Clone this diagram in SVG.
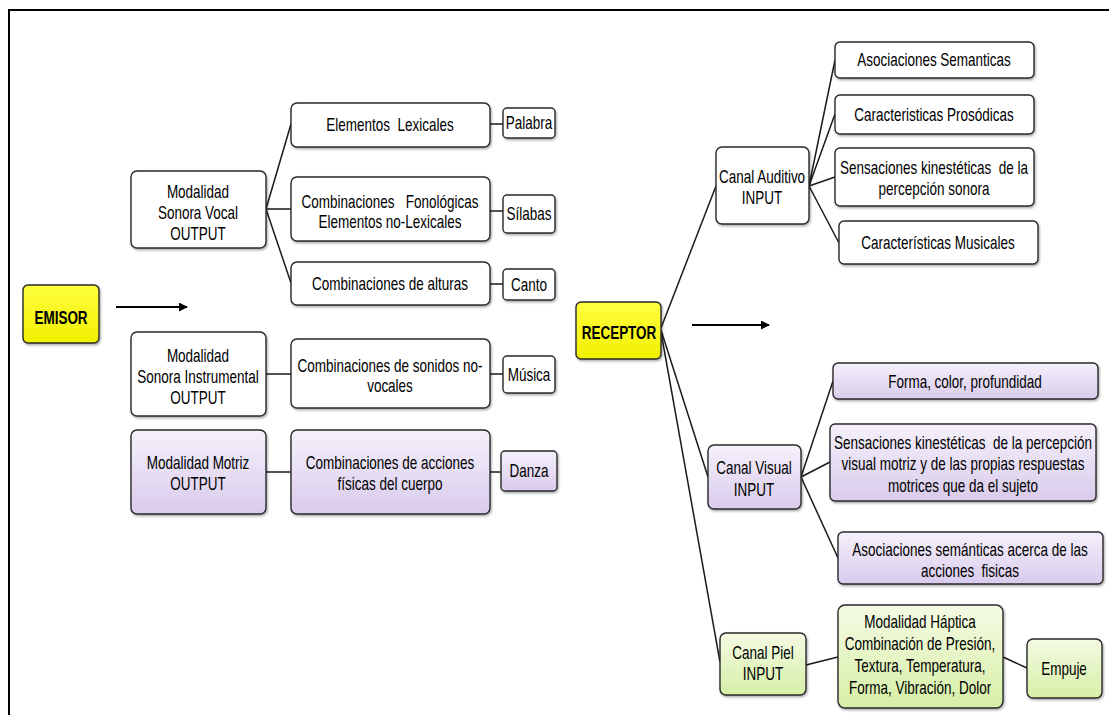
<svg xmlns="http://www.w3.org/2000/svg" width="1109" height="715" viewBox="0 0 1109 715">
<style>
text{font-family:"Liberation Sans",Arial,sans-serif;font-size:18px;fill:#000;text-anchor:middle;transform-box:fill-box;transform-origin:50% 50%;transform:scaleX(0.75)}
text.b{font-weight:bold;font-size:19px;transform:scaleX(0.71)}
.box{stroke:#2a2a2a;stroke-width:1.4;filter:url(#sh)}
.w{fill:#fff}
.y{fill:url(#gy)}
.p{fill:url(#gp)}
.g{fill:url(#gg)}
.c line{stroke:#1a1a1a;stroke-width:1.5}
.c line.arr{stroke:#000;stroke-width:2}
</style>
<defs>
<linearGradient id="gy" x1="0" y1="0" x2="0" y2="1"><stop offset="0" stop-color="#ffff40"/><stop offset="1" stop-color="#f2f000"/></linearGradient>
<linearGradient id="gp" x1="0" y1="0" x2="0" y2="1"><stop offset="0" stop-color="#f5f1fb"/><stop offset="1" stop-color="#d9cbec"/></linearGradient>
<linearGradient id="gg" x1="0" y1="0" x2="0" y2="1"><stop offset="0" stop-color="#f5fbe4"/><stop offset="1" stop-color="#d6efa6"/></linearGradient>
<filter id="sh" x="-10%" y="-10%" width="120%" height="130%"><feDropShadow dx="1" dy="1.5" stdDeviation="1" flood-color="#000" flood-opacity="0.35"/></filter>
<marker id="ah" viewBox="0 0 10 10" refX="9" refY="5" markerWidth="4.5" markerHeight="4.5" orient="auto"><path d="M0,0 L10,5 L0,10 z" fill="#000"/></marker>
</defs>
<rect width="1109" height="715" fill="#fff"/>
<path d="M9,715 V10 H1109" fill="none" stroke="#000" stroke-width="2"/>

<g class="c" id="connectors">
<line x1="266" y1="209" x2="291" y2="124"/>
<line x1="266" y1="209" x2="291" y2="209"/>
<line x1="266" y1="209" x2="291" y2="283"/>
<line x1="490" y1="124" x2="503" y2="124"/>
<line x1="490" y1="211" x2="503" y2="211"/>
<line x1="490" y1="284" x2="503" y2="284"/>
<line x1="266" y1="374" x2="291" y2="374"/>
<line x1="490" y1="374" x2="503" y2="374"/>
<line x1="266" y1="472" x2="291" y2="472"/>
<line x1="490" y1="472" x2="501" y2="472"/>
<line x1="661" y1="328" x2="716" y2="186"/>
<line x1="661" y1="330" x2="708" y2="477"/>
<line x1="661" y1="332" x2="720" y2="662"/>
<line x1="809" y1="186" x2="835" y2="60"/>
<line x1="809" y1="186" x2="835" y2="114"/>
<line x1="809" y1="186" x2="835" y2="177"/>
<line x1="809" y1="186" x2="839" y2="243"/>
<line x1="801" y1="477" x2="833" y2="381"/>
<line x1="801" y1="477" x2="830" y2="462"/>
<line x1="801" y1="477" x2="838" y2="558"/>
<line x1="806" y1="665" x2="838" y2="657"/>
<line x1="1003" y1="657" x2="1027" y2="668"/>
<line class="arr" x1="116" y1="307" x2="187" y2="307" marker-end="url(#ah)"/>
<line class="arr" x1="692" y1="325" x2="769" y2="325" marker-end="url(#ah)"/>
</g>

<g id="emisor"><rect class="box y" x="23" y="285" width="76" height="58" rx="5"/><text class="b" x="61" y="324">EMISOR</text></g>
<g id="vocal"><rect class="box w" x="131" y="171" width="135" height="77" rx="6"/><text x="198" y="198">Modalidad</text><text x="198" y="219">Sonora Vocal</text><text x="198" y="240">OUTPUT</text></g>
<g id="lexicales"><rect class="box w" x="291" y="103" width="199" height="44" rx="6"/><text x="390" y="131" xml:space="preserve">Elementos  Lexicales</text></g>
<g id="fonologicas"><rect class="box w" x="291" y="177" width="199" height="64" rx="6"/><text x="390" y="208" xml:space="preserve">Combinaciones   Fonológicas</text><text x="390" y="228">Elementos no-Lexicales</text></g>
<g id="alturas"><rect class="box w" x="291" y="262" width="199" height="43" rx="6"/><text x="390" y="290">Combinaciones de alturas</text></g>
<g id="palabra"><rect class="box w" x="503" y="108" width="52" height="30" rx="4"/><text x="529" y="129">Palabra</text></g>
<g id="silabas"><rect class="box w" x="503" y="195" width="52" height="38" rx="4"/><text x="529" y="220">Sílabas</text></g>
<g id="canto"><rect class="box w" x="503" y="269" width="52" height="31" rx="4"/><text x="529" y="291">Canto</text></g>
<g id="instrumental"><rect class="box w" x="131" y="332" width="135" height="84" rx="6"/><text x="198" y="362">Modalidad</text><text x="198" y="383">Sonora Instrumental</text><text x="198" y="404">OUTPUT</text></g>
<g id="sonidos"><rect class="box w" x="291" y="339" width="199" height="69" rx="6"/><text x="390" y="372">Combinaciones de sonidos no-</text><text x="390" y="392">vocales</text></g>
<g id="musica"><rect class="box w" x="503" y="356" width="52" height="37" rx="4"/><text x="529" y="381">Música</text></g>
<g id="motriz"><rect class="box p" x="131" y="430" width="135" height="84" rx="6"/><text x="198" y="469">Modalidad Motriz</text><text x="198" y="490">OUTPUT</text></g>
<g id="acciones"><rect class="box p" x="291" y="430" width="199" height="84" rx="6"/><text x="390" y="469">Combinaciones de acciones</text><text x="390" y="490">físicas del cuerpo</text></g>
<g id="danza"><rect class="box p" x="501" y="451" width="56" height="40" rx="4"/><text x="529" y="477">Danza</text></g>

<g id="receptor"><rect class="box y" x="576" y="302" width="85" height="57" rx="5"/><text class="b" x="619" y="339">RECEPTOR</text></g>
<g id="auditivo"><rect class="box w" x="716" y="147" width="93" height="77" rx="6"/><text x="762" y="183">Canal Auditivo</text><text x="762" y="204">INPUT</text></g>
<g id="semanticas"><rect class="box w" x="835" y="42" width="199" height="36" rx="5"/><text x="934" y="66">Asociaciones Semanticas</text></g>
<g id="prosodicas"><rect class="box w" x="835" y="95" width="199" height="39" rx="5"/><text x="934" y="121">Caracteristicas Prosódicas</text></g>
<g id="sonora"><rect class="box w" x="835" y="148" width="199" height="58" rx="5"/><text x="934" y="174" xml:space="preserve">Sensaciones kinestéticas  de la</text><text x="934" y="195">percepción sonora</text></g>
<g id="musicales"><rect class="box w" x="839" y="221" width="199" height="43" rx="5"/><text x="938" y="249">Características Musicales</text></g>
<g id="visual"><rect class="box p" x="708" y="445" width="93" height="64" rx="6"/><text x="754" y="474">Canal Visual</text><text x="754" y="496">INPUT</text></g>
<g id="forma"><rect class="box p" x="833" y="363" width="265" height="36" rx="5"/><text x="965" y="388">Forma, color, profundidad</text></g>
<g id="kinvisual"><rect class="box p" x="830" y="424" width="266" height="77" rx="5"/><text x="963" y="449" xml:space="preserve">Sensaciones kinestéticas  de la percepción</text><text x="963" y="470">visual motriz y de las propias respuestas</text><text x="963" y="492">motrices que da el sujeto</text></g>
<g id="asocfisicas"><rect class="box p" x="838" y="532" width="265" height="52" rx="5"/><text x="970" y="556">Asociaciones semánticas acerca de las</text><text x="970" y="577" xml:space="preserve">acciones  fisicas</text></g>
<g id="piel"><rect class="box g" x="720" y="633" width="86" height="62" rx="6"/><text x="763" y="659">Canal Piel</text><text x="763" y="680">INPUT</text></g>
<g id="haptica"><rect class="box g" x="838" y="605" width="165" height="103" rx="7"/><text x="920" y="628">Modalidad Háptica</text><text x="920" y="650">Combinación de Presión,</text><text x="920" y="672">Textura, Temperatura,</text><text x="920" y="694">Forma, Vibración, Dolor</text></g>
<g id="empuje"><rect class="box g" x="1027" y="639" width="75" height="59" rx="6"/><text x="1064" y="675">Empuje</text></g>
</svg>
